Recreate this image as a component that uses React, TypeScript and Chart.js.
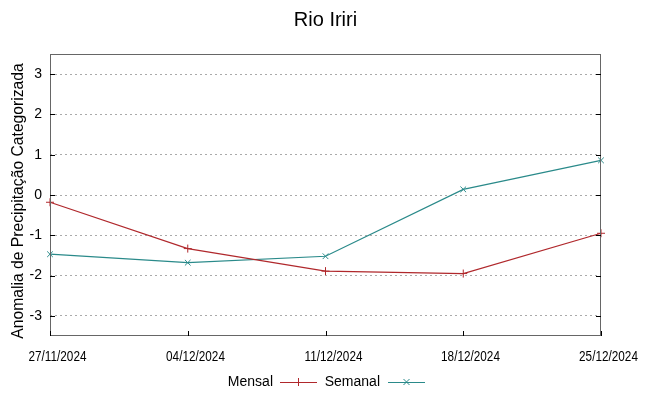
import React, { useEffect, useRef } from "react";
import { Chart, registerables } from "chart.js";

Chart.register(...registerables);

const categories = ["27/11/2024", "04/12/2024", "11/12/2024", "18/12/2024", "25/12/2024"];
const mensal = [-0.18, -1.33, -1.89, -1.95, -0.95];
const semanal = [-1.47, -1.68, -1.52, 0.14, 0.86];
const yTicks = [-3, -2, -1, 0, 1, 2, 3];
const titleText = "Rio Iriri";
const yTitle = "Anomalia de Precipitação Categorizada";

const RED = "#b0282c";
const TEAL = "#2a8a8a";

const framePlugin = {
  id: "frameLegend",
  afterDraw(chart: any) {
    const { ctx, chartArea } = chart;
    const { left, right, top, bottom } = chartArea;
    ctx.save();
    // frame
    ctx.strokeStyle = "#666";
    ctx.lineWidth = 1;
    ctx.strokeRect(left + 0.5, top + 0.5, right - left - 1, bottom - top - 1);
    // inward ticks
    ctx.strokeStyle = "#000";
    const ys = chart.scales.y;
    for (const v of yTicks) {
      const py = Math.round(ys.getPixelForValue(v)) + 0.5;
      ctx.beginPath();
      ctx.moveTo(left, py);
      ctx.lineTo(left + 5, py);
      ctx.moveTo(right, py);
      ctx.lineTo(right - 5, py);
      ctx.stroke();
    }
    const xs = chart.scales.x;
    ctx.fillStyle = "#000";
    ctx.font = "14px 'Liberation Sans', Arial, sans-serif";
    ctx.textAlign = "center";
    ctx.textBaseline = "middle";
    xs.ticks.forEach((t: any, i: number) => {
      const px = Math.round(xs.getPixelForTick(i)) + 0.5;
      ctx.beginPath();
      ctx.moveTo(px, bottom);
      ctx.lineTo(px, bottom - 5);
      ctx.stroke();
      const label = categories[t.value] ?? t.label;
      ctx.save();
      ctx.translate(px + 7, 357);
      ctx.scale(0.84, 1);
      ctx.fillText(label, 0, 0);
      ctx.restore();
    });
    // y axis title
    ctx.save();
    ctx.translate(19, 201);
    ctx.rotate(-Math.PI / 2);
    ctx.font = "15.7px 'Liberation Sans', Arial, sans-serif";
    ctx.fillText(yTitle, 0, 0);
    ctx.restore();
    // title
    ctx.font = "20px 'Liberation Sans', Arial, sans-serif";
    ctx.fillText(titleText, (left + right) / 2, 20);
    // legend
    const ly = 382;
    ctx.font = "14px 'Liberation Sans', Arial, sans-serif";
    ctx.textAlign = "right";
    ctx.fillText("Mensal", 273, ly);
    ctx.fillText("Semanal", 380, ly);
    const drawSample = (x0: number, color: string, kind: string) => {
      ctx.strokeStyle = color;
      ctx.lineWidth = 1;
      ctx.beginPath();
      ctx.moveTo(x0, ly + 0.5);
      ctx.lineTo(x0 + 37, ly + 0.5);
      const cx = x0 + 18.5;
      if (kind === "plus") {
        ctx.moveTo(cx, ly - 4);
        ctx.lineTo(cx, ly + 4);
      } else {
        ctx.moveTo(cx - 3, ly - 3);
        ctx.lineTo(cx + 3, ly + 3);
        ctx.moveTo(cx - 3, ly + 3);
        ctx.lineTo(cx + 3, ly - 3);
      }
      ctx.stroke();
    };
    drawSample(280, RED, "plus");
    drawSample(388, TEAL, "x");
    ctx.restore();
  },
};

export default function App() {
  const ref = useRef<HTMLCanvasElement | null>(null);
  useEffect(() => {
    document.body.style.margin = "0";
    const chart = new Chart(ref.current as HTMLCanvasElement, {
      type: "line",
      data: {
        labels: categories,
        datasets: [
          {
            label: "Mensal",
            data: mensal,
            borderColor: RED,
            backgroundColor: RED,
            borderWidth: 1.2,
            pointStyle: "cross",
            pointRadius: 4,
            pointBorderWidth: 1,
            tension: 0,
          },
          {
            label: "Semanal",
            data: semanal,
            borderColor: TEAL,
            backgroundColor: TEAL,
            borderWidth: 1.2,
            pointStyle: "crossRot",
            pointRadius: 4,
            pointBorderWidth: 1,
            tension: 0,
          },
        ],
      },
      options: {
        animation: false,
        responsive: false,
        layout: { padding: { left: 0, right: 48, top: 54, bottom: 0 } },
        plugins: { legend: { display: false }, title: { display: false }, tooltip: { enabled: false } },
        scales: {
          x: {
            type: "category",
            offset: false,
            grid: { display: false, drawTicks: false },
            border: { display: false },
            ticks: {
              autoSkip: false,
              maxRotation: 0,
              minRotation: 0,
              display: false,
            },
            afterFit: (s: any) => {
              s.height = 60;
            },
          },
          y: {
            min: -3.5,
            max: 3.5,
            afterBuildTicks: (s: any) => {
              s.ticks = yTicks.map((v) => ({ value: v }));
            },
            grid: {
              color: "#aaa",
              drawTicks: false,
              lineWidth: 1,
            },
            border: { display: false, dash: [2, 3] },
            ticks: {
              padding: 8,
              color: "#000",
              font: { family: "'Liberation Sans', Arial, sans-serif", size: 14 },
              callback: (v: any) => String(v),
            },
            title: { display: false },
            afterFit: (s: any) => {
              s.width = 50;
            },
          },
        },
      },
      plugins: [framePlugin],
    } as any);
    return () => chart.destroy();
  }, []);
  return (
    <div style={{ position: "absolute", left: 0, top: 0, width: 649, height: 396 }}>
      <canvas ref={ref} width={649} height={396} />
    </div>
  );
}
